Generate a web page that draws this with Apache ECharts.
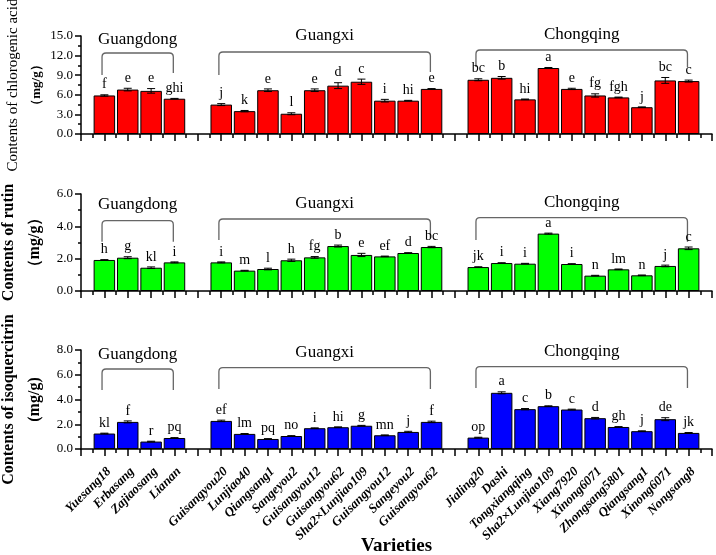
<!DOCTYPE html>
<html>
<head>
<meta charset="utf-8">
<script src="https://cdn.jsdelivr.net/npm/echarts@6/dist/echarts.min.js"></script>
<style>html,body{margin:0;padding:0;background:#fff;}#c{width:716px;height:555px;}</style>
</head>
<body>
<div id="c"></div>
<script>
// ---- data ----
const categories = ['Yuesang18','Erbasang','Zajiaosang','Lianan',
  'Guisangyou20','Lunjiao40','Qiangsang1','Sangeyou2','Guisangyou12','Guisangyou62','Sha2×Lunjiao109','Guisangyou12','Sangeyou2','Guisangyou62',
  'Jialing20','Dashi','Tongxiangqing','Sha2×Lunjiao109','Xiang7920','Xinong6071','Zhongsang5801','Qiangsang1','Xinong6071','Nongsang8'];
const groupNames = ['Guangdong','Guangxi','Chongqing'];
const groupSizes = [4, 10, 10];

const chlorogenic = [5.9, 6.8, 6.6, 5.4, 4.5, 3.5, 6.7, 3.1, 6.7, 7.4, 8.0, 5.1, 5.1, 6.9, 8.3, 8.6, 5.3, 10.1, 6.9, 5.9, 5.6, 4.1, 8.2, 8.1];
const chlorogenicErr = [0.1, 0.2, 0.35, 0.05, 0.15, 0.1, 0.2, 0.15, 0.2, 0.45, 0.4, 0.2, 0.05, 0.05, 0.15, 0.2, 0.05, 0.08, 0.1, 0.25, 0.05, 0.05, 0.45, 0.15];
const chlorogenicSig = ['f','e','e','ghi','j','k','e','l','e','d','c','i','hi','e','bc','b','hi','a','e','fg','fgh','j','bc','c'];

const rutin = [1.92, 2.06, 1.44, 1.77, 1.77, 1.26, 1.36, 1.90, 2.08, 2.78, 2.23, 2.14, 2.35, 2.72, 1.48, 1.73, 1.69, 3.55, 1.67, 0.95, 1.34, 0.97, 1.55, 2.64];
const rutinErr = [0.02, 0.06, 0.05, 0.03, 0.03, 0.02, 0.05, 0.07, 0.05, 0.06, 0.1, 0.02, 0.02, 0.04, 0.02, 0.02, 0.02, 0.03, 0.02, 0.02, 0.02, 0.02, 0.05, 0.08];
const rutinSig = ['h','g','kl','i','i','m','l','h','fg','b','e','ef','d','bc','jk','i','i','a','i','n','lm','n','j','c'];

const isoquercitrin = [1.25, 2.19, 0.60, 0.89, 2.27, 1.22, 0.81, 1.05, 1.68, 1.76, 1.88, 1.11, 1.38, 2.19, 0.92, 4.54, 3.22, 3.46, 3.19, 2.49, 1.78, 1.44, 2.41, 1.30];
const isoquercitrinErr = [0.03, 0.08, 0.03, 0.03, 0.06, 0.03, 0.03, 0.03, 0.03, 0.03, 0.03, 0.03, 0.05, 0.06, 0.03, 0.08, 0.05, 0.03, 0.03, 0.06, 0.03, 0.03, 0.12, 0.03];
const isoquercitrinSig = ['kl','f','r','pq','ef','lm','pq','no','i','hi','g','mn','j','f','op','a','c','b','c','d','gh','j','de','jk'];

const yMax = [15, 6, 8];
const yInterval = [3, 2, 2];

// ---- layout helpers ----
const positions = [];
const groupRanges = [];
let pos = 0;
groupSizes.forEach(n => {
  const start = pos + 1;
  for (let k = 0; k < n; k++) { pos += 1; positions.push(pos); }
  groupRanges.push([start, pos]);
  pos += 1;
});
const xMax = pos;
const nameByPos = {};
positions.forEach((p, i) => { nameByPos[p] = categories[i]; });

const SERIF = '"Liberation Serif","Times New Roman",serif';
const panels = [
  {vals: chlorogenic, err: chlorogenicErr, sig: chlorogenicSig, color: '#FF0000',
   name: '{a|Contents of chlorogenic acid}\n{b|（mg/g）}',
   rich: {a: {fontSize: 15, fontFamily: SERIF, lineHeight: 22, color: '#000'},
          b: {fontSize: 13, fontFamily: SERIF, fontWeight: 'bold', lineHeight: 26, color: '#000'}},
   bracket: [[4,17,39,37],[0,16,39,36],[-1,14,31,31]]},
  {vals: rutin, err: rutinErr, sig: rutinSig, color: '#00FF00',
   name: '{a|Contents of rutin}\n{b|（mg/g）}',
   rich: {a: {fontSize: 16, fontFamily: SERIF, fontWeight: 'bold', lineHeight: 22, color: '#000'},
          b: {fontSize: 16, fontFamily: SERIF, fontWeight: 'bold', lineHeight: 30, color: '#000'}},
   bracket: [[11,26.7,47.7,47.7],[10,25,46,44],[8.7,23.7,46,47.7]]},
  {vals: isoquercitrin, err: isoquercitrinErr, sig: isoquercitrinSig, color: '#0000FF',
   name: '{a|Contents of isoquercitrin}\n{b|(mg/g)}',
   rich: {a: {fontSize: 16, fontFamily: SERIF, fontWeight: 'bold', lineHeight: 22, color: '#000'},
          b: {fontSize: 16, fontFamily: SERIF, fontWeight: 'bold', lineHeight: 30, color: '#000'}},
   bracket: [[5,19,40,40],[3,17.7,39,39],[1.7,16.7,38,38]]}
];
const gridTops = [36, 194, 350];
const gridHeights = [98, 97, 99];

const chart = echarts.init(document.getElementById('c'), null, {renderer: 'canvas'});
const grid = [], xAxis = [], yAxis = [], series = [];
panels.forEach((P, pi) => {
  grid.push({left: 81, right: 4, top: gridTops[pi], height: gridHeights[pi], containLabel: false, outerBoundsMode: 'none'});
  xAxis.push({
    type: 'value', gridIndex: pi, min: 0, max: xMax, interval: 1,
    axisLine: {show: true, onZero: false, lineStyle: {color: '#000', width: 1.5}},
    axisTick: {show: true, length: 7, lineStyle: {color: '#000', width: 1.5}},
    minorTick: {show: true, splitNumber: 2, length: 4, lineStyle: {color: '#000', width: 1.5}},
    splitLine: {show: false}, minorSplitLine: {show: false},
    axisLabel: pi === 2 ? {
      show: true, rotate: 45, margin: 16, interval: 0, verticalAlign: 'top',
      fontFamily: SERIF, fontSize: 13, fontWeight: 'bold', fontStyle: 'italic', color: '#000',
      formatter: v => nameByPos[v] || ''
    } : {show: false},
    name: pi === 2 ? 'Varieties' : '',
    nameLocation: 'middle', nameGap: 88, nameMoveOverlap: false,
    nameTextStyle: {fontFamily: SERIF, fontSize: 19, fontWeight: 'bold', color: '#000'}
  });
  yAxis.push({
    type: 'value', gridIndex: pi, min: 0, max: yMax[pi], interval: yInterval[pi],
    axisLine: {show: true, lineStyle: {color: '#000', width: 1.5}},
    axisTick: {show: true, length: 6, lineStyle: {color: '#000', width: 1.5}},
    minorTick: {show: true, splitNumber: 2, length: 3, lineStyle: {color: '#000', width: 1.5}},
    splitLine: {show: false},
    axisLabel: {fontFamily: SERIF, fontSize: 13, color: '#000', margin: 8, formatter: v => v.toFixed(1)},
    name: P.name, nameLocation: 'middle', nameRotate: 90, nameGap: 31, nameMoveOverlap: false,
    nameTextStyle: {rich: P.rich}
  });
  series.push({
    type: 'bar', xAxisIndex: pi, yAxisIndex: pi, barWidth: 21.5,
    itemStyle: {color: P.color, borderColor: '#000', borderWidth: 1},
    data: P.vals.map((v, i) => [positions[i], v]), silent: true
  });
  series.push({
    type: 'custom', xAxisIndex: pi, yAxisIndex: pi, silent: true, z: 5,
    encode: {x: 0, y: 1},
    data: P.vals.map((v, i) => [positions[i], v, P.err[i], i]),
    renderItem: (params, api) => {
      const x = api.value(0), y = api.value(1), e = api.value(2), idx = api.value(3);
      const top = api.coord([x, y + e]), bot = api.coord([x, y - e]);
      const w = 4, ls = {stroke: '#000', lineWidth: 1};
      return {type: 'group', children: [
        {type: 'line', shape: {x1: top[0], y1: top[1], x2: bot[0], y2: bot[1]}, style: ls},
        {type: 'line', shape: {x1: top[0]-w, y1: top[1], x2: top[0]+w, y2: top[1]}, style: ls},
        {type: 'line', shape: {x1: bot[0]-w, y1: bot[1], x2: bot[0]+w, y2: bot[1]}, style: ls},
        {type: 'text', style: {text: P.sig[idx], x: top[0], y: top[1] - 3, align: 'center', verticalAlign: 'bottom',
          fontSize: 14, fontFamily: SERIF, fill: '#000'}}
      ]};
    }
  });
  series.push({
    type: 'custom', xAxisIndex: pi, yAxisIndex: pi, silent: true, z: 4, clip: false,
    encode: {x: 0, y: 1},
    data: groupRanges.map((r, gi) => [r[0] - 0.1, 0, r[1] - 0.05, gi]),
    renderItem: (params, api) => {
      const gi = api.value(3);
      const cs = params.coordSys;
      const x1 = api.coord([api.value(0), 0])[0], x2 = api.coord([api.value(2), 0])[0];
      const o = P.bracket[gi];
      const yt = cs.y + o[0], yh = cs.y + o[1], yl = cs.y + o[2], yr = cs.y + o[3];
      const r = 4;
      const d = `M${x1},${yl} L${x1},${yh + r} Q${x1},${yh} ${x1 + r},${yh} L${x2 - r},${yh} Q${x2},${yh} ${x2},${yh + r} L${x2},${yr}`;
      return {type: 'group', children: [
        {type: 'path', shape: {pathData: d}, style: {stroke: '#666', lineWidth: 1.3, fill: null}},
        {type: 'text', style: {text: groupNames[gi], x: (x1 + x2) / 2, y: yt, align: 'center', verticalAlign: 'middle',
          fontSize: 17, fontFamily: SERIF, fill: '#000'}}
      ]};
    }
  });
});

chart.setOption({animation: false, backgroundColor: '#fff', grid, xAxis, yAxis, series});
</script>
</body>
</html>
